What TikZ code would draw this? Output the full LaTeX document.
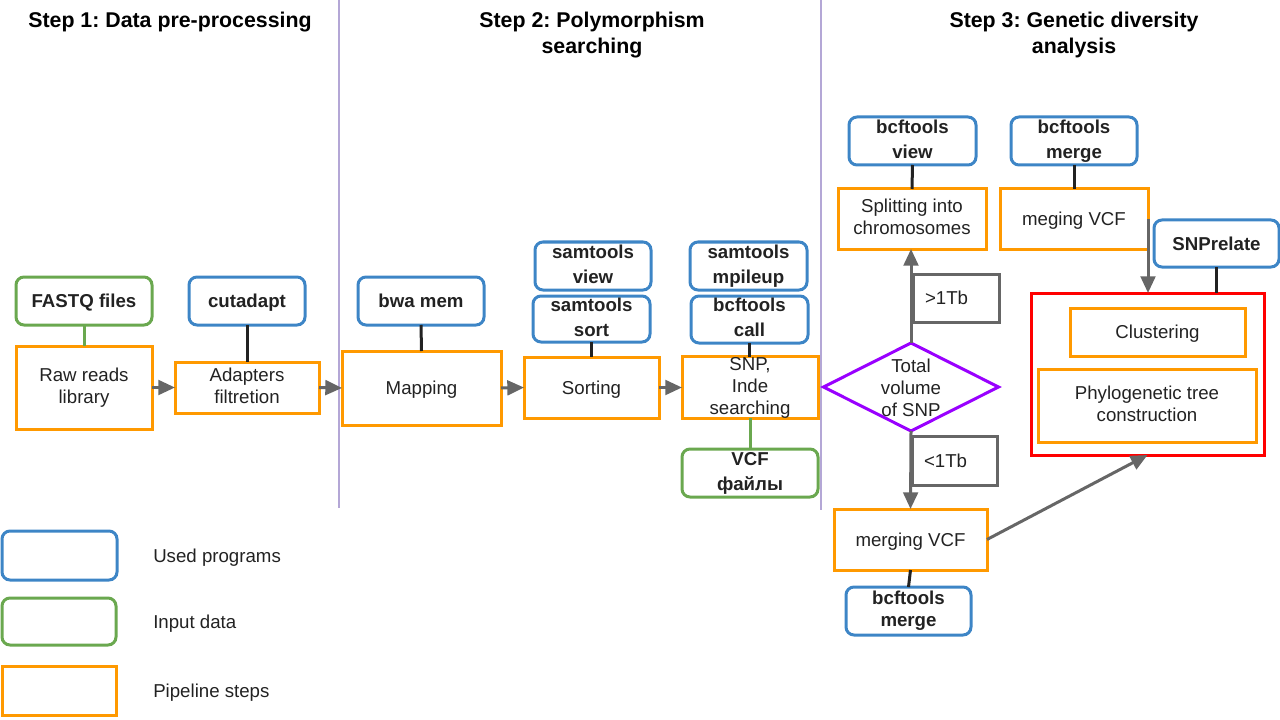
\documentclass[tikz,border=0pt]{standalone}
\usepackage{fontspec}
\setmainfont{Liberation Sans}
\usetikzlibrary{arrows.meta,shapes.geometric}
\definecolor{cblue}{HTML}{3D85C6}
\definecolor{cgreen}{HTML}{6AA84F}
\definecolor{corange}{HTML}{FF9900}
\definecolor{cred}{HTML}{FF0000}
\definecolor{cpurple}{HTML}{9900FF}
\definecolor{cgray}{HTML}{666666}
\definecolor{clav}{HTML}{B4A7D6}
\definecolor{ctext}{HTML}{222222}
\frenchspacing
\tikzset{
 base/.style={draw, line width=2.25pt, inner sep=0pt, outer sep=0pt, align=center, text=ctext, font=\fontsize{14}{16.5}\selectfont,
   execute at begin node={\rule{0pt}{13pt}}, execute at end node={\rule[-3pt]{0pt}{0pt}}},
 prog/.style={base, draw=cblue, rounded corners=6pt, font=\fontsize{14}{18.75}\selectfont\bfseries},
 inp/.style={prog, draw=cgreen},
 pipe/.style={base, draw=corange},
 wh/.style 2 args={minimum width=#1*0.75pt, minimum height=#2*0.75pt},
 conn/.style={line width=2.25pt, draw=ctext},
 gconn/.style={line width=2.25pt, draw=cgreen},
 arr/.style={line width=2.25pt, draw=cgray, -{Triangle[length=12.5pt,width=11pt]}},
 lbl/.style={base, draw=cgray, align=left},
 ttl/.style={align=center, text=black, font=\fontsize{16}{19.5}\selectfont\bfseries},
 legtxt/.style={anchor=west, text=ctext, font=\fontsize{14}{16.5}\selectfont, inner sep=0pt},
 sep/.style={line width=1.6pt, draw=clav},
}
\begin{document}
\begin{tikzpicture}[x=0.75pt,y=-0.75pt]
\useasboundingbox (0,0) rectangle (1280,720);
% titles
\node[ttl] (t1) at (170,22) {Step 1: Data pre-processing};
\node[ttl] (t2) at (592,35) {Step 2: Polymorphism\\searching};
\node[ttl] (t3) at (1074,35) {Step 3: Genetic diversity\\analysis};
% separators
\draw[sep] (339,0) -- (339,508);
\draw[sep] (821,0) -- (821,510);
% step 1
\node[inp, wh={136}{48}] (fastq) at (84,301) {FASTQ files};
\node[pipe, wh={136}{83}] (raw) at (84,387.5) {Raw reads\\library};
\node[prog, wh={116}{48}] (cutadapt) at (247,301) {cutadapt};
\node[pipe, wh={144}{51}] (adapt) at (247,387.5) {Adapters\\filtretion};
% step 2
\node[prog, wh={126}{48}] (bwa) at (421,301) {bwa mem};
\node[pipe, wh={159}{74}] (mapping) at (421.5,388) {Mapping};
\node[prog, wh={116}{48}] (sview) at (593,266) {samtools\\view};
\node[prog, wh={117}{46}] (ssort) at (591.5,319) {samtools\\sort};
\node[pipe, wh={135}{61}] (sorting) at (591.5,387.5) {Sorting};
\node[prog, wh={117}{48}] (mpileup) at (748.5,266) {samtools\\mpileup};
\node[prog, wh={117}{47}] (bcall) at (749.5,319.5) {bcftools\\call};
\node[pipe, wh={136}{61}] (snp) at (750,387.5) {SNP,\\Inde\\searching};
\node[inp, wh={136}{48}] (vcf) at (750,473) {VCF\\файлы};
% step 3
\node[prog, wh={127}{48}] (bview) at (912.5,141) {bcftools\\view};
\node[pipe, wh={148}{60}] (split) at (912,219) {Splitting into\\chromosomes};
\node[prog, wh={126}{48}] (bmerge1) at (1074,141) {bcftools\\merge};
\node[pipe, wh={148}{60}] (meging) at (1074,219) {meging VCF};
\node[prog, wh={125}{47}] (snprel) at (1216.5,243.5) {SNPrelate};
\node[base, draw=cred, wh={233}{162}] (red) at (1147.5,374) {};
\node[pipe, wh={175}{48}] (clust) at (1157.5,332) {Clustering};
\node[pipe, wh={218}{73}] (phylo) at (1147,405.5) {Phylogenetic tree\\construction};
\node[diamond, draw=cpurple, line width=2.25pt, inner sep=0pt, outer sep=0pt, wh={175}{88}] (dia) at (911,387) {};
\node[align=center, text=ctext, font=\fontsize{14}{16.5}\selectfont, inner sep=0pt] (diatext) at (911,388) {Total\\volume\\of SNP};
\node[lbl, minimum height=48*0.75pt, text width=62*0.75pt, inner xsep=12*0.75pt] (gt) at (956,298) {>1Tb};
\node[lbl, minimum height=49*0.75pt, text width=61*0.75pt, inner xsep=12*0.75pt] (lt) at (954.5,460.5) {<1Tb};
\node[pipe, wh={153}{61}] (merging) at (910.5,539.5) {merging VCF};
\node[prog, wh={125}{48}, font=\fontsize{14}{16.5}\selectfont\bfseries] (bmerge2) at (908.5,611) {bcftools\\merge};
% legend
\node[prog, wh={115}{49}] (lg1) at (59.5,555.5) {};
\node[inp, wh={114}{47}] (lg2) at (59,621.5) {};
\node[pipe, wh={114}{49}] (lg3) at (59,690.5) {};
\node[legtxt] (lt1) at (153,557.5) {Used programs};
\node[legtxt] (lt2) at (153,623.5) {Input data};
\node[legtxt] (lt3) at (153,692.5) {Pipeline steps};
% connectors
\draw[gconn] (fastq.south) -- (raw.north);
\draw[conn] (cutadapt.south) -- (adapt.north);
\draw[arr] (raw.east) -- (adapt.west);
\draw[arr] (adapt.east) -- (mapping.west);
\draw[conn] (bwa.south) -- (mapping.north);
\draw[arr] (mapping.east) -- (sorting.west);
\draw[conn] (ssort.south) -- (sorting.north);
\draw[arr] (sorting.east) -- (snp.west);
\draw[conn] (bcall.south) -- (bcall.south |- snp.north);
\draw[gconn] (snp.south) -- (vcf.north);
\draw[conn] (bview.south) -- (split.north);
\draw[conn] (bmerge1.south) -- (meging.north);
\draw[arr] (dia.north) -- (dia.north |- split.south);
\draw[arr] (dia.south) -- (merging.north);
\draw[conn] (merging.south) -- (bmerge2.north);
\draw[arr] (meging.east) -- (meging.east |- red.north);
\draw[arr] (merging.east) -- (red.south);
\draw[conn] (snprel.south) -- (snprel.south |- red.north);
\end{tikzpicture}
\end{document}
